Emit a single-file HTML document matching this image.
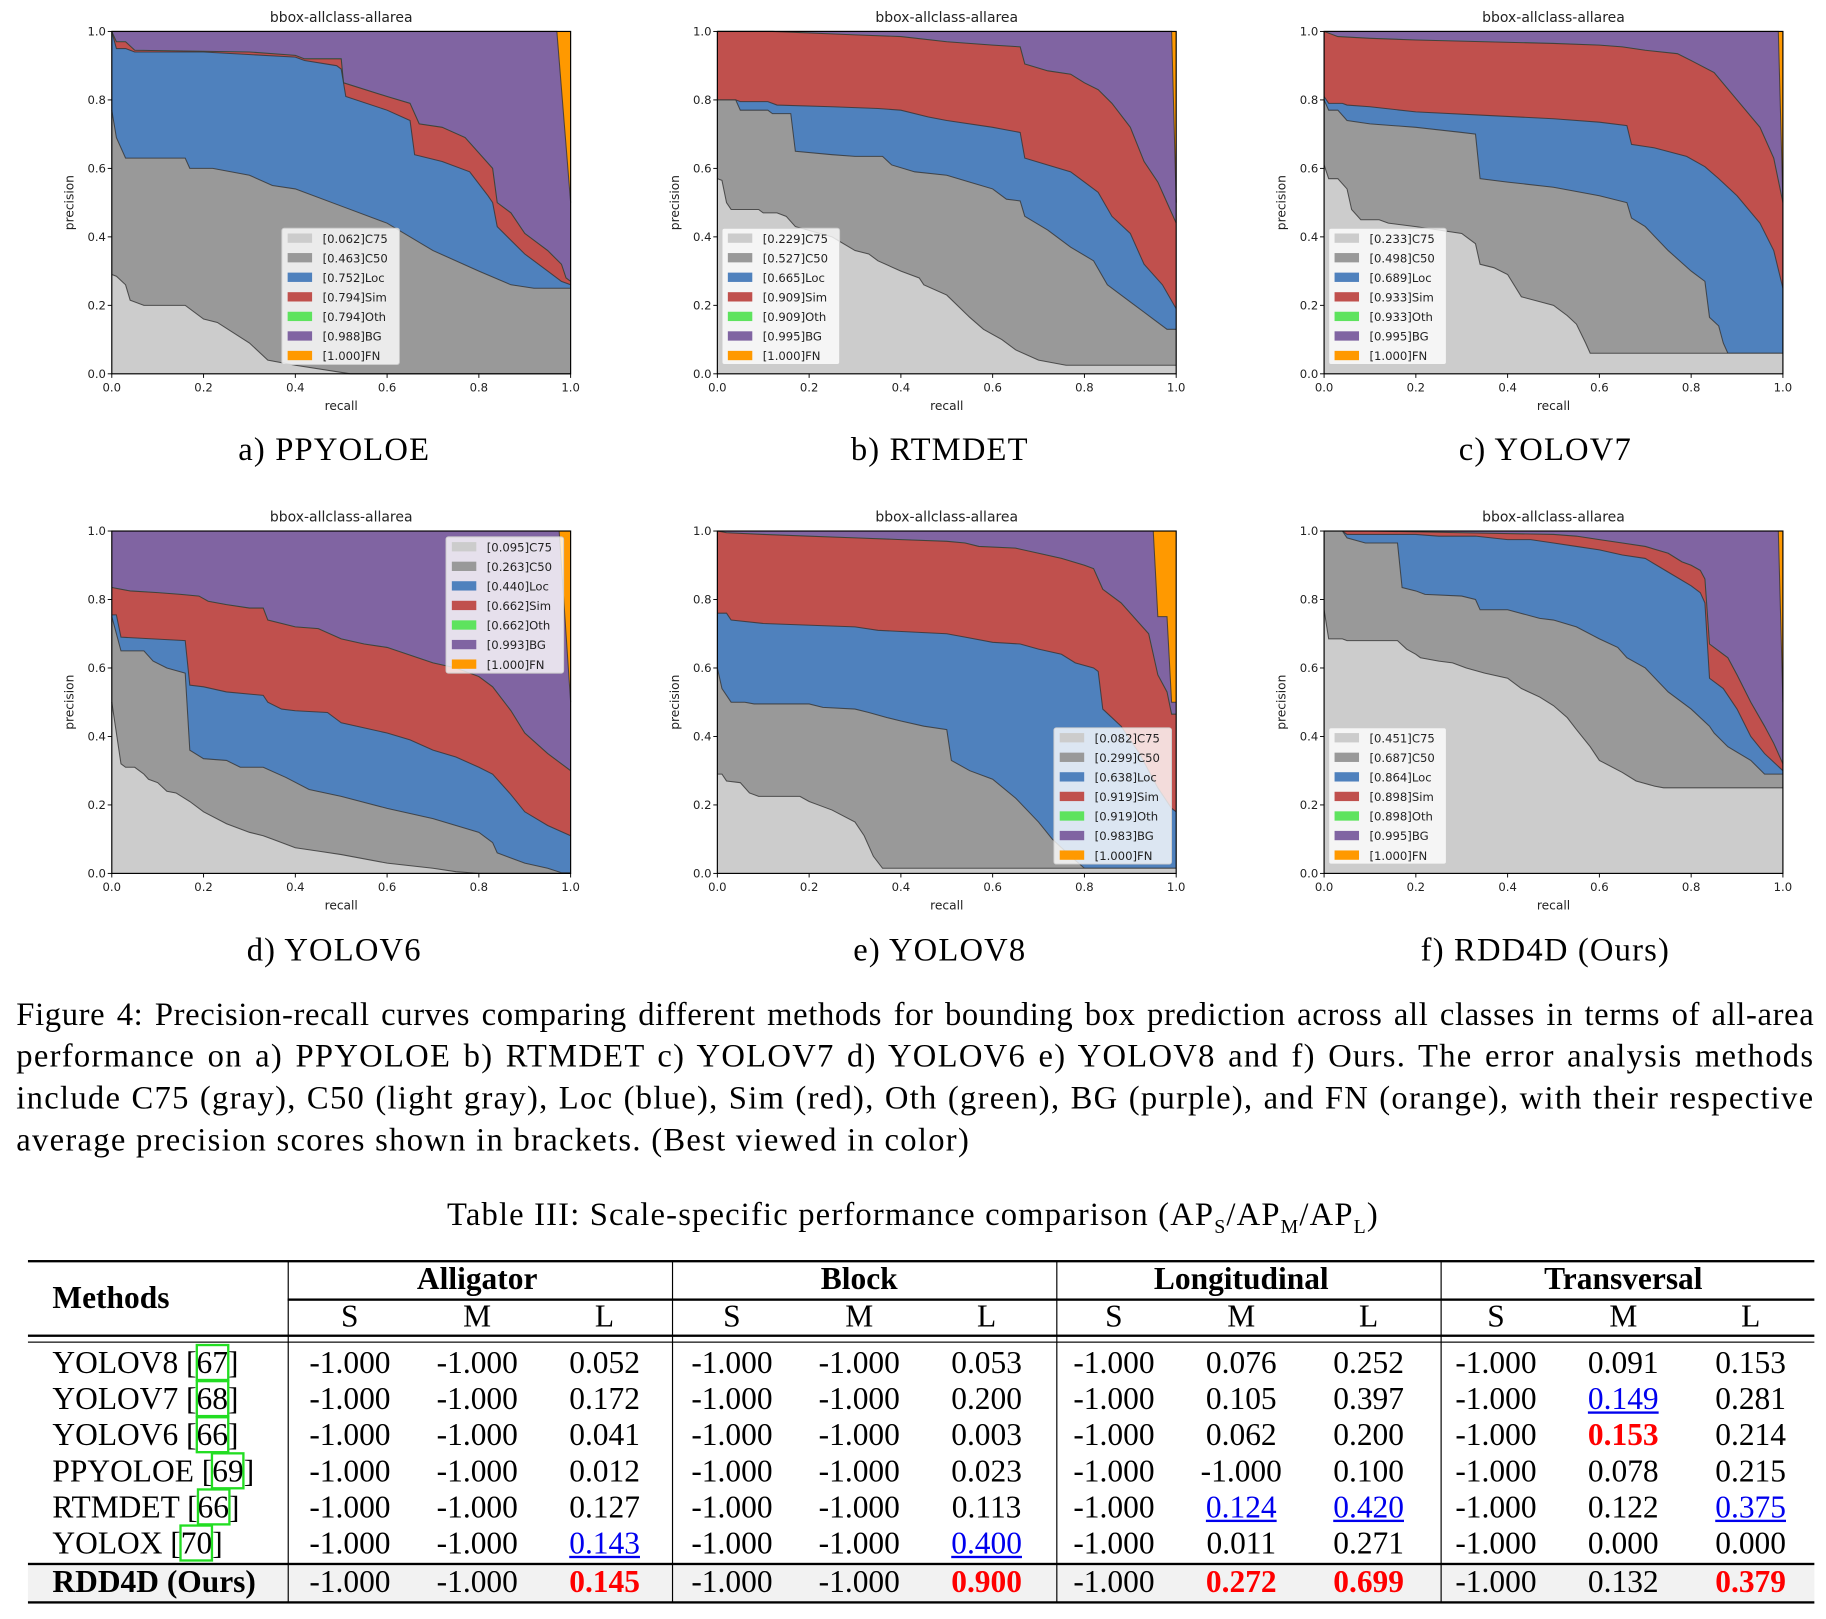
<!DOCTYPE html>
<html><head><meta charset="utf-8">
<style>
html,body{margin:0;padding:0;background:#fff;}
body{width:1826px;height:1618px;overflow:hidden;position:relative;}
#wrap{position:absolute;left:0;top:0;width:1568px;height:1390px;transform:scale(1.16454);transform-origin:0 0;font-family:"Liberation Serif",serif;color:#000;}
.sub{position:absolute;font-size:28px;letter-spacing:1px;text-align:center;width:400px;}
.cap{position:absolute;left:14px;width:1544px;font-size:28px;letter-spacing:1.1px;line-height:36px;text-align:justify;text-align-last:justify;white-space:nowrap;}
.cap.last{text-align-last:left;}
.hl{position:absolute;background:#000;}
.row{position:absolute;left:24px;width:1534px;height:31px;display:flex;font-size:27px;line-height:31px;}
.m{width:223px;padding-left:21px;box-sizing:border-box;text-align:left;white-space:nowrap;}
.c{width:110px;text-align:center;}
.g{width:330px;text-align:center;font-weight:bold;}
.blue{color:#0000ee;text-decoration:underline;}
.red{color:#ff0000;font-weight:bold;}
.ref{outline:2.5px solid #22dd22;outline-offset:-1px;}
</style></head>
<body>
<div id="wrap">
<svg id="charts" width="1568" height="800" style="position:absolute;left:0;top:0;font-family:'DejaVu Sans',sans-serif;"></svg>

<div class="sub" style="left:87px;top:371px;">a) PPYOLOE</div>
<div class="sub" style="left:607px;top:371px;">b) RTMDET</div>
<div class="sub" style="left:1127px;top:371px;">c) YOLOV7</div>
<div class="sub" style="left:87px;top:801px;">d) YOLOV6</div>
<div class="sub" style="left:607px;top:801px;">e) YOLOV8</div>
<div class="sub" style="left:1127px;top:801px;">f) RDD4D (Ours)</div>

<div>
<div class="cap" style="top:854px;letter-spacing:0.55px;">Figure 4: Precision-recall curves comparing different methods for bounding box prediction across all classes in terms of all-area</div>
<div class="cap" style="top:890px;">performance on a) PPYOLOE b) RTMDET c) YOLOV7 d) YOLOV6 e) YOLOV8 and f) Ours. The error analysis methods</div>
<div class="cap" style="top:926px;">include C75 (gray), C50 (light gray), Loc (blue), Sim (red), Oth (green), BG (purple), and FN (orange), with their respective</div>
<div class="cap last" style="top:962px;">average precision scores shown in brackets. (Best viewed in color)</div>
</div>

<div style="position:absolute;left:0;width:1568px;top:1028px;text-align:center;font-size:28px;letter-spacing:1px;">Table III: Scale-specific performance comparison (AP<sub style="font-size:17px;">S</sub>/AP<sub style="font-size:17px;">M</sub>/AP<sub style="font-size:17px;">L</sub>)</div>

<div>
<div class="hl" style="left:24px;width:1534px;top:1082px;height:2px;"></div>
<div class="hl" style="left:247px;width:1311px;top:1115px;height:1.5px;"></div>
<div class="hl" style="left:24px;width:1534px;top:1146px;height:2px;"></div>
<div class="hl" style="left:24px;width:1534px;top:1152px;height:1px;"></div>
<div style="position:absolute;left:24px;width:1534px;top:1343px;height:32px;background:#f2f2f2;"></div>
<div class="hl" style="left:24px;width:1534px;top:1342px;height:1.5px;"></div>
<div class="hl" style="left:24px;width:1534px;top:1375px;height:2px;"></div>
<div class="hl" style="left:247px;width:1px;top:1083px;height:293px;"></div>
<div class="hl" style="left:577px;width:1px;top:1083px;height:293px;"></div>
<div class="hl" style="left:907px;width:1px;top:1083px;height:293px;"></div>
<div class="hl" style="left:1237px;width:1px;top:1083px;height:293px;"></div>

<div class="row" style="top:1099px;"><div class="m" style="font-weight:bold;">Methods</div></div>
<div class="row" style="top:1083px;"><div style="width:223px"></div><div class="g">Alligator</div><div class="g">Block</div><div class="g">Longitudinal</div><div class="g">Transversal</div></div>
<div class="row" style="top:1115px;"><div style="width:223px"></div><div class="c">S</div><div class="c">M</div><div class="c">L</div><div class="c">S</div><div class="c">M</div><div class="c">L</div><div class="c">S</div><div class="c">M</div><div class="c">L</div><div class="c">S</div><div class="c">M</div><div class="c">L</div></div>

<div class="row" style="top:1155px;"><div class="m">YOLOV8 [<span class="ref">67</span>]</div><div class="c">-1.000</div><div class="c">-1.000</div><div class="c">0.052</div><div class="c">-1.000</div><div class="c">-1.000</div><div class="c">0.053</div><div class="c">-1.000</div><div class="c">0.076</div><div class="c">0.252</div><div class="c">-1.000</div><div class="c">0.091</div><div class="c">0.153</div></div>
<div class="row" style="top:1186px;"><div class="m">YOLOV7 [<span class="ref">68</span>]</div><div class="c">-1.000</div><div class="c">-1.000</div><div class="c">0.172</div><div class="c">-1.000</div><div class="c">-1.000</div><div class="c">0.200</div><div class="c">-1.000</div><div class="c">0.105</div><div class="c">0.397</div><div class="c">-1.000</div><div class="c"><span class="blue">0.149</span></div><div class="c">0.281</div></div>
<div class="row" style="top:1217px;"><div class="m">YOLOV6 [<span class="ref">66</span>]</div><div class="c">-1.000</div><div class="c">-1.000</div><div class="c">0.041</div><div class="c">-1.000</div><div class="c">-1.000</div><div class="c">0.003</div><div class="c">-1.000</div><div class="c">0.062</div><div class="c">0.200</div><div class="c">-1.000</div><div class="c"><span class="red">0.153</span></div><div class="c">0.214</div></div>
<div class="row" style="top:1248px;"><div class="m">PPYOLOE [<span class="ref">69</span>]</div><div class="c">-1.000</div><div class="c">-1.000</div><div class="c">0.012</div><div class="c">-1.000</div><div class="c">-1.000</div><div class="c">0.023</div><div class="c">-1.000</div><div class="c">-1.000</div><div class="c">0.100</div><div class="c">-1.000</div><div class="c">0.078</div><div class="c">0.215</div></div>
<div class="row" style="top:1279px;"><div class="m">RTMDET [<span class="ref">66</span>]</div><div class="c">-1.000</div><div class="c">-1.000</div><div class="c">0.127</div><div class="c">-1.000</div><div class="c">-1.000</div><div class="c">0.113</div><div class="c">-1.000</div><div class="c"><span class="blue">0.124</span></div><div class="c"><span class="blue">0.420</span></div><div class="c">-1.000</div><div class="c">0.122</div><div class="c"><span class="blue">0.375</span></div></div>
<div class="row" style="top:1310px;"><div class="m">YOLOX [<span class="ref">70</span>]</div><div class="c">-1.000</div><div class="c">-1.000</div><div class="c"><span class="blue">0.143</span></div><div class="c">-1.000</div><div class="c">-1.000</div><div class="c"><span class="blue">0.400</span></div><div class="c">-1.000</div><div class="c">0.011</div><div class="c">0.271</div><div class="c">-1.000</div><div class="c">0.000</div><div class="c">0.000</div></div>
<div class="row" style="top:1343px;"><div class="m" style="font-weight:bold;">RDD4D (Ours)</div><div class="c">-1.000</div><div class="c">-1.000</div><div class="c"><span class="red">0.145</span></div><div class="c">-1.000</div><div class="c">-1.000</div><div class="c"><span class="red">0.900</span></div><div class="c">-1.000</div><div class="c"><span class="red">0.272</span></div><div class="c"><span class="red">0.699</span></div><div class="c">-1.000</div><div class="c">0.132</div><div class="c"><span class="red">0.379</span></div></div>
</div>
</div>

<script>
// ---- data: [recall, precision] boundary points per error type ----
const aC75=[[0,0.29],[0.01,0.285],[0.03,0.26],[0.04,0.215],[0.07,0.2],[0.16,0.2],[0.2,0.16],[0.23,0.15],[0.3,0.09],[0.34,0.04],[0.4,0.025],[0.52,0],[1,0]];
const aC50=[[0,0.77],[0.01,0.69],[0.03,0.63],[0.16,0.63],[0.17,0.6],[0.22,0.6],[0.3,0.58],[0.35,0.55],[0.4,0.54],[0.5,0.49],[0.6,0.44],[0.7,0.36],[0.8,0.3],[0.87,0.26],[0.92,0.25],[1,0.25]];
const aLoc=[[0,1],[0.01,0.95],[0.03,0.95],[0.05,0.94],[0.2,0.94],[0.4,0.925],[0.42,0.915],[0.49,0.9],[0.5,0.89],[0.51,0.81],[0.6,0.77],[0.65,0.74],[0.66,0.64],[0.72,0.62],[0.78,0.59],[0.82,0.52],[0.83,0.5],[0.84,0.43],[0.9,0.35],[0.95,0.3],[0.98,0.27],[1,0.26]];
const aSim=[[0,1],[0.01,0.97],[0.03,0.97],[0.05,0.945],[0.3,0.94],[0.4,0.93],[0.42,0.92],[0.5,0.92],[0.505,0.85],[0.6,0.81],[0.65,0.79],[0.67,0.73],[0.72,0.72],[0.77,0.69],[0.83,0.6],[0.84,0.5],[0.87,0.47],[0.9,0.41],[0.95,0.36],[0.98,0.32],[0.99,0.28],[1,0.27]];
const aBG=[[0,1],[0.97,1],[1,0.5]];
const aLabels=["[0.062]C75","[0.463]C50","[0.752]Loc","[0.794]Sim","[0.794]Oth","[0.988]BG","[1.000]FN"];

const bC75=[[0,0.57],[0.01,0.565],[0.02,0.5],[0.03,0.48],[0.09,0.48],[0.1,0.47],[0.13,0.47],[0.15,0.46],[0.17,0.43],[0.25,0.4],[0.3,0.36],[0.33,0.35],[0.35,0.33],[0.4,0.3],[0.44,0.28],[0.45,0.26],[0.5,0.23],[0.55,0.165],[0.58,0.13],[0.62,0.1],[0.65,0.07],[0.7,0.04],[0.76,0.025],[1,0.025]];
const bC50=[[0,0.8],[0.04,0.8],[0.05,0.77],[0.11,0.77],[0.12,0.76],[0.16,0.76],[0.17,0.65],[0.25,0.64],[0.3,0.635],[0.36,0.635],[0.38,0.61],[0.43,0.59],[0.5,0.58],[0.55,0.56],[0.6,0.54],[0.63,0.51],[0.66,0.505],[0.67,0.46],[0.72,0.42],[0.77,0.37],[0.82,0.33],[0.85,0.26],[0.9,0.21],[0.95,0.16],[0.98,0.13],[1,0.13]];
const bLoc=[[0,0.8],[0.04,0.8],[0.05,0.795],[0.11,0.795],[0.13,0.785],[0.25,0.78],[0.35,0.775],[0.4,0.77],[0.46,0.75],[0.5,0.74],[0.6,0.72],[0.66,0.705],[0.67,0.63],[0.72,0.61],[0.77,0.59],[0.8,0.56],[0.83,0.53],[0.86,0.46],[0.9,0.41],[0.93,0.32],[0.97,0.26],[1,0.19]];
const bSim=[[0,1],[0.12,1],[0.3,0.99],[0.4,0.985],[0.5,0.97],[0.6,0.96],[0.66,0.955],[0.67,0.905],[0.72,0.885],[0.77,0.875],[0.8,0.85],[0.83,0.83],[0.86,0.79],[0.9,0.72],[0.93,0.62],[0.96,0.56],[0.98,0.5],[1,0.44]];
const bBG=[[0,1],[0.99,1],[1,0.5]];
const bLabels=["[0.229]C75","[0.527]C50","[0.665]Loc","[0.909]Sim","[0.909]Oth","[0.995]BG","[1.000]FN"];

const cC75=[[0,0.61],[0.01,0.57],[0.03,0.57],[0.05,0.54],[0.06,0.48],[0.08,0.45],[0.12,0.45],[0.14,0.44],[0.2,0.43],[0.3,0.41],[0.32,0.39],[0.33,0.38],[0.34,0.32],[0.37,0.31],[0.4,0.29],[0.43,0.225],[0.5,0.2],[0.53,0.17],[0.55,0.145],[0.57,0.09],[0.58,0.06],[1,0.06]];
const cC50=[[0,0.8],[0.01,0.77],[0.03,0.77],[0.05,0.74],[0.1,0.73],[0.2,0.72],[0.3,0.705],[0.33,0.7],[0.34,0.57],[0.4,0.56],[0.5,0.545],[0.6,0.52],[0.66,0.5],[0.67,0.455],[0.7,0.43],[0.75,0.36],[0.8,0.3],[0.83,0.27],[0.84,0.165],[0.86,0.14],[0.87,0.09],[0.88,0.06],[1,0.06]];
const cLoc=[[0,0.81],[0.01,0.79],[0.04,0.79],[0.05,0.785],[0.1,0.78],[0.2,0.765],[0.35,0.755],[0.5,0.745],[0.6,0.735],[0.66,0.725],[0.67,0.67],[0.72,0.66],[0.79,0.635],[0.83,0.605],[0.86,0.57],[0.9,0.52],[0.95,0.44],[0.98,0.36],[1,0.25]];
const cSim=[[0,1],[0.03,0.985],[0.1,0.98],[0.2,0.975],[0.35,0.97],[0.5,0.965],[0.6,0.96],[0.65,0.955],[0.7,0.945],[0.77,0.935],[0.8,0.915],[0.85,0.88],[0.9,0.8],[0.95,0.72],[0.98,0.63],[1,0.5]];
const cBG=[[0,1],[0.99,1],[1,0.5]];
const cLabels=["[0.233]C75","[0.498]C50","[0.689]Loc","[0.933]Sim","[0.933]Oth","[0.995]BG","[1.000]FN"];

const dC75=[[0,0.5],[0.02,0.32],[0.03,0.31],[0.05,0.31],[0.07,0.29],[0.08,0.275],[0.1,0.265],[0.12,0.24],[0.14,0.235],[0.17,0.21],[0.2,0.18],[0.25,0.145],[0.3,0.12],[0.33,0.11],[0.35,0.1],[0.4,0.075],[0.45,0.065],[0.5,0.055],[0.6,0.03],[0.7,0.015],[0.75,0.005],[0.8,0],[1,0]];
const dC50=[[0,0.75],[0.02,0.65],[0.07,0.65],[0.09,0.62],[0.12,0.6],[0.16,0.585],[0.17,0.36],[0.2,0.335],[0.25,0.33],[0.28,0.31],[0.33,0.31],[0.38,0.28],[0.43,0.245],[0.5,0.225],[0.6,0.19],[0.7,0.16],[0.8,0.12],[0.83,0.09],[0.84,0.06],[0.9,0.03],[0.95,0.015],[0.98,0.002],[1,0.002]];
const dLoc=[[0,0.755],[0.01,0.755],[0.02,0.69],[0.16,0.68],[0.17,0.55],[0.2,0.545],[0.25,0.53],[0.33,0.52],[0.34,0.5],[0.37,0.48],[0.4,0.475],[0.47,0.47],[0.5,0.44],[0.55,0.425],[0.6,0.41],[0.65,0.39],[0.7,0.36],[0.75,0.34],[0.8,0.31],[0.83,0.29],[0.87,0.23],[0.9,0.18],[0.95,0.14],[1,0.11]];
const dSim=[[0,0.835],[0.04,0.825],[0.1,0.82],[0.15,0.815],[0.19,0.81],[0.21,0.795],[0.25,0.785],[0.3,0.775],[0.33,0.775],[0.34,0.74],[0.4,0.72],[0.45,0.715],[0.5,0.685],[0.55,0.67],[0.6,0.66],[0.7,0.615],[0.75,0.6],[0.8,0.575],[0.83,0.545],[0.87,0.475],[0.9,0.41],[0.95,0.35],[1,0.3]];
const dBG=[[0,1],[0.975,1],[1,0.5]];
const dLabels=["[0.095]C75","[0.263]C50","[0.440]Loc","[0.662]Sim","[0.662]Oth","[0.993]BG","[1.000]FN"];

const eC75=[[0,0.29],[0.01,0.29],[0.02,0.27],[0.05,0.265],[0.07,0.235],[0.09,0.225],[0.18,0.225],[0.2,0.21],[0.22,0.2],[0.25,0.185],[0.3,0.15],[0.32,0.11],[0.34,0.05],[0.36,0.015],[1,0.015]];
const eC50=[[0,0.6],[0.01,0.54],[0.03,0.5],[0.06,0.5],[0.08,0.495],[0.2,0.495],[0.23,0.485],[0.3,0.48],[0.33,0.47],[0.37,0.455],[0.4,0.445],[0.45,0.43],[0.5,0.42],[0.51,0.33],[0.55,0.3],[0.6,0.275],[0.65,0.22],[0.7,0.15],[0.73,0.1],[0.77,0.05],[0.8,0.015],[1,0.015]];
const eLoc=[[0,0.76],[0.02,0.76],[0.03,0.74],[0.1,0.73],[0.3,0.72],[0.35,0.71],[0.5,0.7],[0.54,0.69],[0.6,0.675],[0.66,0.67],[0.7,0.655],[0.75,0.64],[0.78,0.615],[0.82,0.6],[0.83,0.59],[0.84,0.48],[0.88,0.43],[0.92,0.35],[0.96,0.25],[0.99,0.19],[1,0.18]];
const eSim=[[0,1],[0.02,0.995],[0.1,0.99],[0.2,0.985],[0.3,0.98],[0.4,0.975],[0.5,0.97],[0.54,0.965],[0.57,0.955],[0.65,0.95],[0.7,0.935],[0.75,0.92],[0.8,0.9],[0.82,0.89],[0.84,0.83],[0.88,0.79],[0.92,0.73],[0.94,0.7],[0.96,0.58],[0.98,0.53],[0.99,0.465],[1,0.465]];
const eBG=[[0,1],[0.95,1],[0.96,0.75],[0.98,0.75],[0.99,0.5],[1,0.5]];
const eLabels=["[0.082]C75","[0.299]C50","[0.638]Loc","[0.919]Sim","[0.919]Oth","[0.983]BG","[1.000]FN"];

const fC75=[[0,0.77],[0.01,0.685],[0.04,0.685],[0.05,0.68],[0.16,0.68],[0.18,0.655],[0.2,0.64],[0.21,0.63],[0.25,0.62],[0.28,0.615],[0.31,0.6],[0.35,0.585],[0.4,0.57],[0.43,0.54],[0.47,0.515],[0.5,0.49],[0.53,0.455],[0.55,0.42],[0.58,0.37],[0.6,0.33],[0.65,0.295],[0.68,0.27],[0.72,0.255],[0.74,0.25],[1,0.25]];
const fC50=[[0,1],[0.04,1],[0.05,0.98],[0.09,0.965],[0.16,0.965],[0.17,0.835],[0.2,0.825],[0.22,0.815],[0.3,0.81],[0.33,0.8],[0.34,0.77],[0.4,0.77],[0.47,0.745],[0.5,0.74],[0.55,0.72],[0.6,0.685],[0.64,0.66],[0.66,0.63],[0.7,0.6],[0.75,0.53],[0.8,0.48],[0.84,0.43],[0.85,0.41],[0.88,0.37],[0.93,0.33],[0.96,0.29],[1,0.29]];
const fLoc=[[0,1],[0.04,1],[0.05,0.99],[0.2,0.99],[0.25,0.985],[0.33,0.985],[0.4,0.975],[0.45,0.975],[0.5,0.965],[0.55,0.955],[0.6,0.945],[0.65,0.93],[0.7,0.92],[0.75,0.88],[0.8,0.84],[0.82,0.82],[0.83,0.79],[0.84,0.57],[0.87,0.54],[0.9,0.48],[0.93,0.4],[0.96,0.35],[1,0.3]];
const fSim=[[0,1],[0.1,1],[0.3,0.995],[0.5,0.99],[0.55,0.985],[0.6,0.975],[0.65,0.965],[0.7,0.955],[0.75,0.935],[0.78,0.91],[0.8,0.9],[0.82,0.885],[0.83,0.86],[0.84,0.67],[0.87,0.64],[0.88,0.63],[0.9,0.58],[0.93,0.5],[0.96,0.43],[0.98,0.38],[1,0.32]];
const fBG=[[0,1],[0.99,1],[1,0.5]];
const fLabels=["[0.451]C75","[0.687]C50","[0.864]Loc","[0.898]Sim","[0.898]Oth","[0.995]BG","[1.000]FN"];

const yTicks=[0,0.2,0.4,0.6,0.8,1.0];
const xTicks=[0,0.2,0.4,0.6,0.8,1.0];

const NS="http://www.w3.org/2000/svg";
const svg=document.getElementById('charts');
const COLORS={FN:"#ff9900",BG:"#8064a2",Oth:"#5ee35e",Sim:"#c0504d",Loc:"#4f81bd",C50:"#999999",C75:"#cccccc"};
const LEG=["C75","C50","Loc","Sim","Oth","BG","FN"];
function mk(tag,attrs,parent){const e=document.createElementNS(NS,tag);for(const k in attrs)e.setAttribute(k,attrs[k]);(parent||svg).appendChild(e);return e;}

function drawChart(key,px,py,series,labels,lx,ly){
  const W=394,H=294;
  const xs=v=>px+v*W, ys=v=>py+H-v*H;
  const g=mk('g',{});
  
  
  const t=mk('text',{x:px+W/2,y:py-8,'text-anchor':'middle','font-size':12,fill:'#222'},g);t.textContent='bbox-allclass-allarea';
  
  
  const fn=mk('rect',{x:xs(0),y:ys(1),width:W,height:H,fill:COLORS.FN},g);
  
  
  const order=[["BG",series.BG],["Oth",series.Sim],["Sim",series.Sim],["Loc",series.Loc],["C50",series.C50],["C75",series.C75]];
  order.forEach(([name,pts])=>{
    let d=pts.map((p,i)=>(i?'L':'M')+xs(p[0]).toFixed(2)+','+ys(p[1]).toFixed(2)).join(' ');
    const a=mk('path',{d:d+' L'+xs(1)+','+ys(0)+' L'+xs(0)+','+ys(0)+' Z',fill:COLORS[name]},g);
    
    
    const l=mk('path',{d:d,fill:'none',stroke:name==="Oth"?"#3a6":"#333",'stroke-width':0.9,'stroke-opacity':0.8},g);
    
    
  });
  const fr=mk('rect',{x:px,y:py,width:W,height:H,fill:'none',stroke:'#000','stroke-width':1},g);
  
  
  yTicks.forEach(v=>{
    mk('line',{x1:px-3.5,x2:px,y1:ys(v),y2:ys(v),stroke:'#000','stroke-width':0.8},g);
    const tx=mk('text',{x:px-5,y:ys(v)+3.5,'text-anchor':'end','font-size':10,fill:'#222'},g);tx.textContent=v.toFixed(1);
    
    
  });
  xTicks.forEach(v=>{
    mk('line',{x1:xs(v),x2:xs(v),y1:py+H,y2:py+H+3.5,stroke:'#000','stroke-width':0.8},g);
    const tx=mk('text',{x:xs(v),y:py+H+15,'text-anchor':'middle','font-size':10,fill:'#222'},g);tx.textContent=v.toFixed(1);
    
    
  });
  const xl=mk('text',{x:px+W/2,y:py+H+31,'text-anchor':'middle','font-size':10.5,fill:'#222'},g);xl.textContent='recall';
  
  
  const yl=mk('text',{x:0,y:0,'text-anchor':'middle','font-size':10.5,fill:'#222',transform:'translate('+(px-33)+','+(py+H/2)+') rotate(-90)'},g);yl.textContent='precision';
  
  
  const lg=mk('g',{},g);
  
  
  mk('rect',{x:lx,y:ly,width:101,height:117,rx:2,fill:'#fff','fill-opacity':0.8,stroke:'#ccc','stroke-width':0.8},lg);
  LEG.forEach((n,i)=>{
    const ey=ly+5+i*16.8;
    const sw=mk('rect',{x:lx+5,y:ey-0.5,width:21,height:8,fill:COLORS[n]},lg);
    
    
    const tx=mk('text',{x:lx+35,y:ey+7.5,'font-size':10,fill:'#222'},lg);tx.textContent=labels[i];
    
    
  });
}
drawChart('ppyoloe',96,27,{C75:aC75,C50:aC50,Loc:aLoc,Sim:aSim,BG:aBG},aLabels,242,196);
drawChart('rtmdet',616,27,{C75:bC75,C50:bC50,Loc:bLoc,Sim:bSim,BG:bBG},bLabels,620,196);
drawChart('yolov7',1137,27,{C75:cC75,C50:cC50,Loc:cLoc,Sim:cSim,BG:cBG},cLabels,1141,196);
drawChart('yolov6',96,456,{C75:dC75,C50:dC50,Loc:dLoc,Sim:dSim,BG:dBG},dLabels,383,461);
drawChart('yolov8',616,456,{C75:eC75,C50:eC50,Loc:eLoc,Sim:eSim,BG:eBG},eLabels,905,625);
drawChart('rdd4d',1137,456,{C75:fC75,C50:fC50,Loc:fLoc,Sim:fSim,BG:fBG},fLabels,1141,625);
</script>
</body></html>
